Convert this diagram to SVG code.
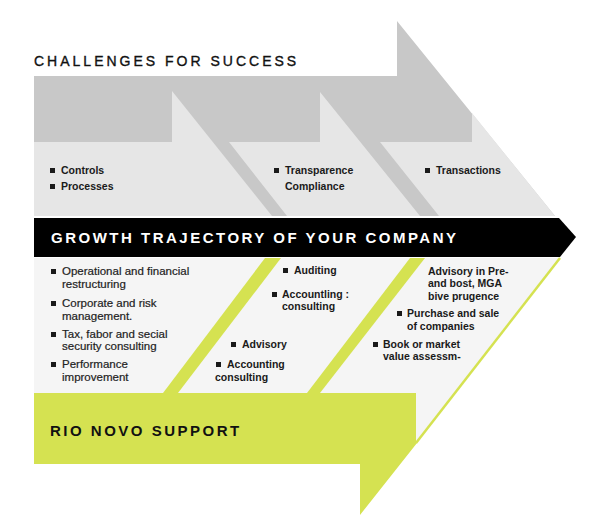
<svg xmlns="http://www.w3.org/2000/svg" width="600" height="527" viewBox="0 0 600 527">
  <style>
    .title { font-family: "Liberation Sans", Arial, sans-serif; font-size: 14px; letter-spacing: 3px; fill: #111; stroke: #111; stroke-width: 0.35px; }
    .band { font-family: "Liberation Sans", Arial, sans-serif; font-size: 15px; font-weight: bold; letter-spacing: 2.5px; }
    .lb { font-family: "Liberation Sans", Arial, sans-serif; font-size: 10.5px; font-weight: bold; fill: #1a1a1a; }
    .lr { font-family: "Liberation Sans", Arial, sans-serif; font-size: 11.5px; fill: #222; stroke: #222; stroke-width: 0.2px; }
    .gray { fill: #c8c8c8; }
    .light { fill: #e6e6e6; }
    .pale { fill: #f5f5f5; }
    .lime { fill: #d5e251; }
    .blt { fill: #1a1a1a; }
  </style>
  <rect width="600" height="527" fill="#ffffff"/>

  <g id="challenges">
    <text class="title" x="34" y="66">CHALLENGES FOR SUCCESS</text>
    <polygon class="gray" points="34,76 397,76 397,21 555,216 34,216"/>
    <polygon class="light" points="34,142 172,142 172,91 272,216 34,216"/>
    <polygon class="light" points="229,142 320,142 320,92 420,216 287,216"/>
    <polygon class="light" points="380,142 472,142 472,113 555,216 439,216"/>
  </g>

  <g id="challenge-labels">
    <rect class="blt" x="50" y="168" width="5" height="5"/>
    <text class="lb" x="61" y="174">Controls</text>
    <rect class="blt" x="50" y="184" width="5" height="5"/>
    <text class="lb" x="61" y="190">Processes</text>
    <rect class="blt" x="274" y="168" width="5" height="5"/>
    <text class="lb" x="285" y="174">Transparence</text>
    <text class="lb" x="285" y="190">Compliance</text>
    <rect class="blt" x="425" y="168" width="5" height="5"/>
    <text class="lb" x="436" y="174">Transactions</text>
  </g>

  <g id="growth">
    <polygon fill="#000" points="34,218 559,218 576,237 560,257 34,257"/>
    <text class="band" x="51" y="243" fill="#ffffff">GROWTH TRAJECTORY OF YOUR COMPANY</text>
  </g>

  <g id="support-area">
    <polygon class="pale" points="34,258 560,258 416,443 416,393 34,393"/>
    <polygon class="lime" points="265,258 281,258 178,393 163,393"/>
    <polygon class="lime" points="410,258 425,258 320,393 307,393"/>
    <line x1="560" y1="258" x2="416" y2="443" stroke="#d5e251" stroke-width="2.5"/>
  </g>

  <g id="support">
    <polygon class="lime" points="34,393 416,393 416,443 417,443 360,515 360,464 34,464"/>
    <text class="band" x="50" y="436" fill="#111">RIO NOVO SUPPORT</text>
  </g>

  <g id="labels-left">
    <rect class="blt" x="51" y="269" width="5" height="5"/>
    <text class="lr" x="62" y="275">Operational and financial</text>
    <text class="lr" x="62" y="288">restructuring</text>
    <rect class="blt" x="51" y="301" width="5" height="5"/>
    <text class="lr" x="62" y="307">Corporate and risk</text>
    <text class="lr" x="62" y="320">management.</text>
    <rect class="blt" x="51" y="332" width="5" height="5"/>
    <text class="lr" x="62" y="338">Tax, fabor and secial</text>
    <text class="lr" x="62" y="350">security consulting</text>
    <rect class="blt" x="51" y="362" width="5" height="5"/>
    <text class="lr" x="62" y="368">Performance</text>
    <text class="lr" x="62" y="381">improvement</text>
  </g>

  <g id="labels-middle">
    <rect class="blt" x="283" y="268" width="5" height="5"/>
    <text class="lb" x="294" y="274">Auditing</text>
    <rect class="blt" x="272" y="292" width="5" height="5"/>
    <text class="lb" x="282" y="298">Accountling :</text>
    <text class="lb" x="282" y="310">consulting</text>
    <rect class="blt" x="231" y="342" width="5" height="5"/>
    <text class="lb" x="242" y="348">Advisory</text>
    <rect class="blt" x="216" y="362" width="5" height="5"/>
    <text class="lb" x="227" y="368">Accounting</text>
    <text class="lb" x="215" y="381">consulting</text>
  </g>

  <g id="labels-right">
    <text class="lb" x="428" y="275">Advisory in Pre-</text>
    <text class="lb" x="428" y="287">and bost, MGA</text>
    <text class="lb" x="428" y="300">bive prugence</text>
    <rect class="blt" x="397" y="311" width="5" height="5"/>
    <text class="lb" x="407" y="317">Purchase and sale</text>
    <text class="lb" x="407" y="330">of companies</text>
    <rect class="blt" x="373" y="342" width="5" height="5"/>
    <text class="lb" x="383" y="348">Book or market</text>
    <text class="lb" x="383" y="360">value assessm-</text>
  </g>
</svg>
